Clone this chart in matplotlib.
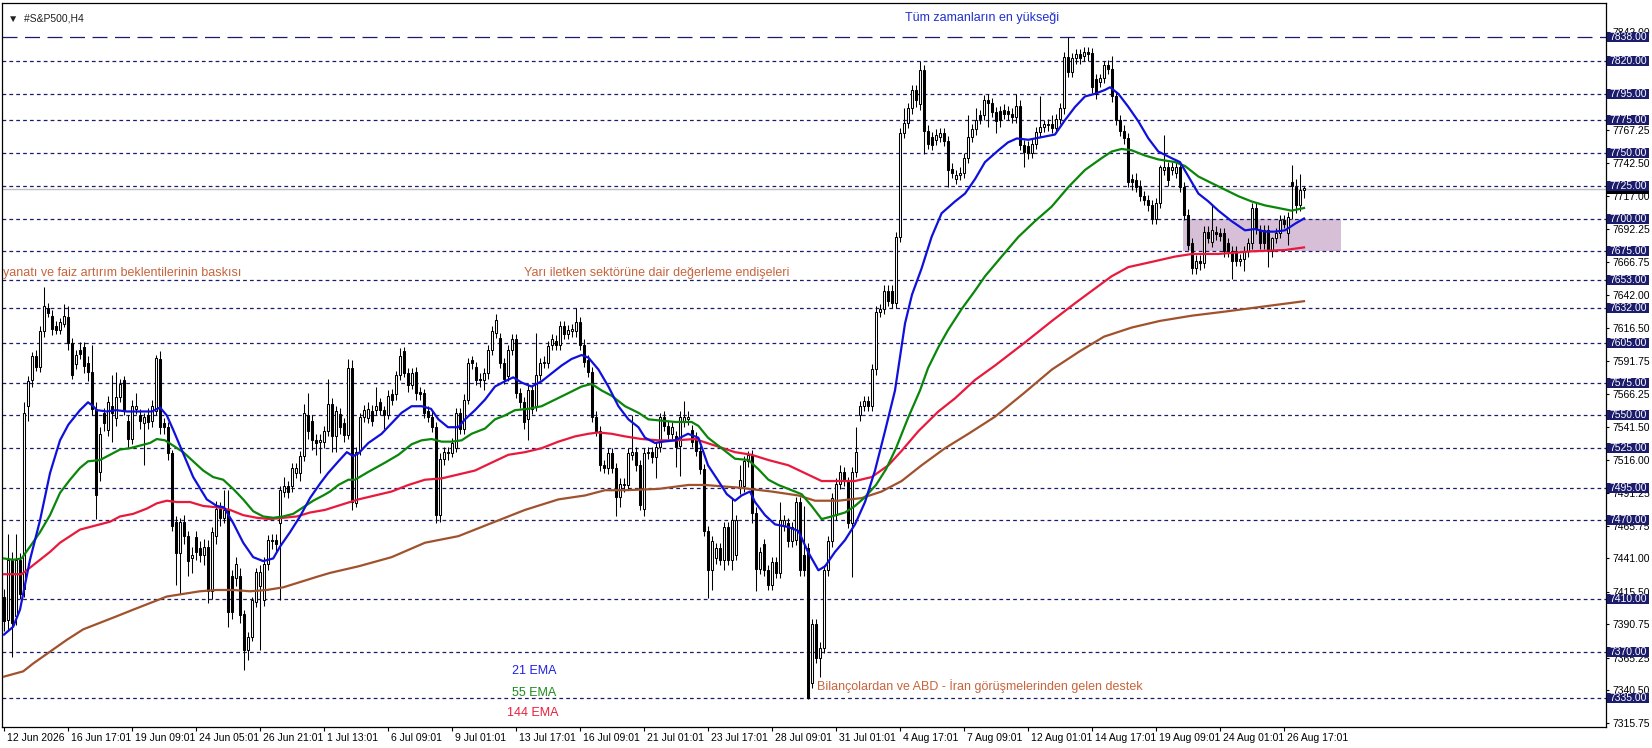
import matplotlib
matplotlib.use("Agg")
import matplotlib.pyplot as plt
import matplotlib.transforms as mtransforms
from matplotlib.patches import Rectangle

# H4 candles, 12 Jun - 27 Aug (bar index = position)
opens = [
    7412, 7394, 7440, 7397, 7440, 7418, 7557, 7577, 7595, 7587,
    7614, 7632, 7626, 7618, 7615, 7620, 7625, 7605, 7589, 7600,
    7602, 7590, 7583, 7555, 7507, 7552, 7539, 7557, 7548, 7564,
    7577, 7546, 7532, 7555, 7550, 7544, 7550, 7546, 7553, 7593,
    7544, 7541, 7521, 7469, 7445, 7469, 7458, 7441, 7457, 7449,
    7444, 7450, 7416, 7458, 7479, 7472, 7478, 7428, 7426, 7428,
    7399, 7371, 7381, 7408, 7420, 7409, 7437, 7455, 7455, 7468,
    7492, 7496, 7496, 7506, 7506, 7519, 7550, 7546, 7531, 7530,
    7530, 7538, 7559, 7534, 7551, 7544, 7535, 7586, 7483, 7524,
    7549, 7548, 7553, 7554, 7560, 7554, 7550, 7566, 7566, 7581,
    7599, 7582, 7573, 7583, 7568, 7567, 7553, 7549, 7541, 7474,
    7517, 7522, 7521, 7525, 7552, 7540, 7562, 7592, 7587, 7578,
    7577, 7582, 7600, 7613, 7609, 7590, 7580, 7600, 7608, 7567,
    7560, 7547, 7569, 7557, 7581, 7590, 7590, 7604, 7607, 7604,
    7618, 7612, 7614, 7614, 7621, 7604, 7592, 7583, 7549, 7538,
    7512, 7510, 7521, 7510, 7488, 7497, 7497, 7520, 7522, 7512,
    7479, 7521, 7522, 7518, 7526, 7549, 7542, 7536, 7534, 7527,
    7545, 7547, 7539, 7533, 7523, 7509, 7462, 7432, 7441, 7449,
    7440, 7465, 7440, 7444, 7495, 7496, 7515, 7520, 7476, 7433,
    7452, 7432, 7421, 7438, 7430, 7466, 7468, 7454, 7455, 7484,
    7444, 7449, 7346, 7391, 7365, 7373, 7432, 7454, 7474, 7498,
    7507, 7499, 7468, 7507, 7550, 7557, 7561, 7557, 7585, 7629,
    7631, 7645, 7645, 7636, 7686, 7765, 7773, 7784, 7798, 7787,
    7813, 7767, 7762, 7760, 7762, 7765, 7759, 7738, 7730, 7733,
    7735, 7746, 7762, 7768, 7779, 7779, 7790, 7788, 7781, 7782,
    7783, 7782, 7780, 7777, 7786, 7756, 7755, 7750, 7757, 7766,
    7770, 7771, 7772, 7769, 7776, 7784, 7823, 7812, 7822, 7825,
    7824, 7827, 7826, 7806, 7804, 7807, 7817, 7814, 7793, 7775,
    7767, 7761, 7730, 7729, 7725, 7717, 7714, 7710, 7700, 7712,
    7737, 7739, 7737, 7735, 7739, 7724, 7703, 7681, 7662, 7668,
    7666, 7690, 7682, 7690, 7689, 7689, 7681, 7675, 7675, 7668,
    7669, 7675, 7681, 7708, 7691, 7691, 7691, 7675, 7685, 7689,
    7699, 7689, 7728, 7724, 7710, 7722,
]
highs = [
    7418, 7460, 7446, 7460, 7445, 7560, 7580, 7598, 7600, 7618,
    7648, 7636, 7630, 7622, 7624, 7635, 7633, 7609, 7600, 7606,
    7606, 7595, 7604, 7560, 7541, 7556, 7565, 7581, 7583, 7578,
    7580, 7550, 7562, 7567, 7555, 7552, 7556, 7562, 7596, 7599,
    7548, 7545, 7524, 7473, 7472, 7474, 7462, 7450, 7462, 7454,
    7456, 7455, 7465, 7485, 7484, 7493, 7493, 7432, 7442, 7434,
    7402, 7385, 7412, 7434, 7436, 7442, 7459, 7460, 7460, 7496,
    7503, 7500, 7514, 7514, 7523, 7559, 7567, 7550, 7536, 7536,
    7542, 7578, 7563, 7557, 7556, 7548, 7593, 7592, 7526, 7552,
    7558, 7560, 7558, 7572, 7563, 7557, 7569, 7570, 7584, 7601,
    7602, 7586, 7586, 7587, 7572, 7570, 7557, 7553, 7545, 7521,
    7526, 7526, 7533, 7556, 7556, 7566, 7594, 7595, 7591, 7582,
    7586, 7604, 7618, 7627, 7613, 7594, 7604, 7612, 7612, 7571,
    7564, 7573, 7573, 7613, 7594, 7595, 7607, 7612, 7611, 7622,
    7622, 7619, 7620, 7632, 7625, 7608, 7596, 7587, 7553, 7542,
    7516, 7525, 7525, 7514, 7502, 7502, 7525, 7550, 7526, 7516,
    7525, 7526, 7526, 7530, 7552, 7553, 7546, 7545, 7538, 7553,
    7561, 7553, 7543, 7537, 7527, 7513, 7466, 7458, 7453, 7453,
    7469, 7469, 7487, 7474, 7512, 7519, 7523, 7524, 7480, 7450,
    7456, 7436, 7442, 7442, 7484, 7474, 7472, 7469, 7488, 7488,
    7481, 7453, 7395, 7395, 7377, 7436, 7458, 7491, 7502, 7512,
    7511, 7503, 7511, 7541, 7561, 7565, 7565, 7589, 7633, 7635,
    7649, 7649, 7649, 7690, 7769, 7784, 7788, 7802, 7802, 7820,
    7817, 7771, 7766, 7768, 7769, 7769, 7763, 7742, 7737, 7739,
    7750, 7779, 7772, 7784, 7783, 7794, 7795, 7792, 7785, 7786,
    7787, 7786, 7784, 7795, 7790, 7760, 7759, 7761, 7770, 7793,
    7775, 7776, 7779, 7780, 7788, 7827, 7838, 7826, 7829, 7829,
    7831, 7831, 7830, 7810, 7810, 7820, 7821, 7824, 7797, 7779,
    7771, 7765, 7734, 7735, 7729, 7721, 7718, 7714, 7716, 7741,
    7764, 7743, 7743, 7743, 7743, 7728, 7707, 7685, 7672, 7672,
    7694, 7694, 7710, 7694, 7693, 7693, 7685, 7679, 7679, 7673,
    7679, 7685, 7712, 7712, 7695, 7695, 7695, 7686, 7693, 7703,
    7703, 7705, 7741, 7730, 7734, 7725,
]
lows = [
    7386, 7386, 7366, 7390, 7410, 7412, 7546, 7572, 7584, 7583,
    7610, 7625, 7611, 7612, 7612, 7617, 7600, 7578, 7585, 7593,
    7582, 7576, 7550, 7471, 7500, 7538, 7534, 7530, 7542, 7560,
    7550, 7525, 7528, 7551, 7540, 7512, 7540, 7541, 7550, 7536,
    7536, 7516, 7462, 7421, 7414, 7452, 7428, 7430, 7440, 7438,
    7436, 7407, 7410, 7452, 7466, 7468, 7389, 7395, 7420, 7392,
    7356, 7364, 7378, 7404, 7371, 7405, 7432, 7448, 7446, 7409,
    7488, 7487, 7492, 7502, 7500, 7515, 7532, 7524, 7520, 7506,
    7525, 7534, 7522, 7522, 7536, 7530, 7532, 7478, 7480, 7520,
    7545, 7544, 7542, 7550, 7550, 7540, 7547, 7558, 7562, 7577,
    7579, 7568, 7570, 7562, 7562, 7548, 7545, 7537, 7468, 7469,
    7512, 7516, 7518, 7522, 7536, 7536, 7559, 7585, 7573, 7572,
    7569, 7578, 7596, 7609, 7586, 7574, 7576, 7596, 7563, 7556,
    7540, 7531, 7551, 7553, 7577, 7586, 7586, 7600, 7600, 7600,
    7608, 7608, 7610, 7610, 7600, 7587, 7579, 7545, 7534, 7508,
    7506, 7505, 7506, 7473, 7480, 7492, 7494, 7516, 7508, 7478,
    7473, 7517, 7514, 7502, 7522, 7538, 7532, 7532, 7511, 7504,
    7541, 7543, 7526, 7519, 7505, 7458, 7411, 7417, 7437, 7436,
    7432, 7436, 7432, 7440, 7490, 7492, 7511, 7468, 7416, 7429,
    7428, 7417, 7417, 7426, 7426, 7462, 7450, 7450, 7451, 7428,
    7428, 7334, 7342, 7361, 7351, 7369, 7428, 7450, 7470, 7494,
    7496, 7464, 7427, 7503, 7546, 7553, 7553, 7553, 7581, 7625,
    7627, 7633, 7632, 7632, 7682, 7761, 7769, 7780, 7785, 7783,
    7749, 7753, 7752, 7756, 7758, 7755, 7724, 7731, 7726, 7729,
    7731, 7742, 7758, 7764, 7772, 7775, 7770, 7777, 7765, 7770,
    7776, 7775, 7773, 7773, 7752, 7739, 7745, 7746, 7753, 7762,
    7766, 7767, 7765, 7765, 7772, 7780, 7808, 7808, 7818, 7818,
    7820, 7820, 7796, 7791, 7800, 7803, 7810, 7789, 7771, 7763,
    7757, 7724, 7722, 7720, 7713, 7710, 7706, 7696, 7696, 7708,
    7733, 7725, 7733, 7731, 7720, 7699, 7676, 7658, 7658, 7661,
    7662, 7681, 7678, 7684, 7683, 7671, 7671, 7654, 7664, 7664,
    7660, 7671, 7677, 7688, 7677, 7677, 7663, 7671, 7681, 7685,
    7693, 7680, 7700, 7704, 7706, 7716,
]
closes = [
    7393, 7440, 7392, 7440, 7414, 7552, 7576, 7595, 7587, 7614,
    7633, 7628, 7616, 7615, 7621, 7626, 7605, 7581, 7596, 7597,
    7588, 7583, 7555, 7489, 7536, 7544, 7560, 7552, 7564, 7574,
    7554, 7532, 7557, 7557, 7546, 7549, 7545, 7557, 7594, 7541,
    7541, 7521, 7466, 7445, 7469, 7458, 7439, 7444, 7446, 7444,
    7450, 7416, 7461, 7479, 7472, 7478, 7400, 7400, 7437, 7398,
    7371, 7381, 7409, 7431, 7431, 7437, 7455, 7454, 7452, 7493,
    7496, 7492, 7510, 7510, 7519, 7552, 7538, 7531, 7529, 7531,
    7538, 7559, 7534, 7553, 7541, 7535, 7586, 7484, 7522, 7549,
    7554, 7555, 7546, 7557, 7554, 7550, 7565, 7562, 7581, 7595,
    7582, 7573, 7582, 7567, 7566, 7552, 7549, 7541, 7474, 7517,
    7522, 7521, 7529, 7552, 7540, 7562, 7590, 7590, 7577, 7577,
    7582, 7600, 7614, 7623, 7590, 7578, 7600, 7608, 7567, 7560,
    7545, 7569, 7555, 7581, 7590, 7591, 7603, 7608, 7604, 7618,
    7612, 7615, 7616, 7621, 7604, 7591, 7583, 7549, 7538, 7512,
    7510, 7521, 7510, 7488, 7498, 7498, 7521, 7522, 7512, 7482,
    7521, 7522, 7518, 7526, 7549, 7542, 7536, 7541, 7526, 7549,
    7549, 7549, 7530, 7523, 7509, 7462, 7432, 7454, 7449, 7440,
    7465, 7440, 7470, 7470, 7501, 7515, 7520, 7476, 7433, 7446,
    7432, 7421, 7438, 7430, 7470, 7470, 7454, 7465, 7484, 7432,
    7432, 7335, 7391, 7365, 7373, 7432, 7454, 7487, 7498, 7507,
    7500, 7468, 7507, 7522, 7557, 7561, 7557, 7585, 7629, 7631,
    7645, 7637, 7636, 7686, 7765, 7773, 7784, 7798, 7790, 7813,
    7767, 7757, 7756, 7764, 7765, 7759, 7737, 7735, 7733, 7735,
    7746, 7762, 7768, 7775, 7776, 7790, 7788, 7781, 7774, 7775,
    7780, 7780, 7777, 7786, 7756, 7751, 7750, 7757, 7766, 7770,
    7772, 7772, 7769, 7776, 7784, 7823, 7812, 7822, 7825, 7822,
    7827, 7825, 7800, 7795, 7807, 7817, 7814, 7793, 7775, 7767,
    7761, 7728, 7728, 7724, 7717, 7714, 7710, 7700, 7712, 7739,
    7739, 7729, 7739, 7739, 7724, 7703, 7680, 7662, 7668, 7666,
    7690, 7685, 7691, 7688, 7687, 7675, 7675, 7668, 7668, 7669,
    7675, 7681, 7708, 7692, 7681, 7681, 7675, 7685, 7689, 7699,
    7696, 7701, 7725, 7710, 7722, 7723,
]

# moving averages: bar position -> value
ema21_at = [0, 2.3, 4, 6.5, 9, 11.5, 14, 16.1, 19, 21, 22.3, 23.2, 25.7, 28, 30.7, 37, 39,
            40.7, 42.3, 44.8, 47.3, 50.7, 53.2, 55, 57.3, 59.8, 62.3, 64.8, 67.3, 69, 71.5,
            74, 76.5, 79, 81, 83.6, 85.7, 87.3, 88.6, 91.1, 94.4, 96.9, 99.4, 101.9, 104.4,
            106.75, 108.6, 111, 113.6, 115.25, 117.75, 120.25, 122.75, 125.25, 127.3, 129.4,
            131.9, 134.4, 136.9, 139.4, 141.9, 144.4, 146.1, 148.6, 151.1, 153.6, 156.1,
            158.6, 160.25, 162.75, 164.8, 167.75, 171, 173.6, 176, 178.6, 180.7, 182.75,
            184.4, 186.5, 187.75, 190.25, 192.75, 196, 198.6, 201, 203.6, 205.25, 207.75,
            210.25, 212.75, 215.25, 217.75, 220.25, 222.75, 225.25, 227, 229.4, 231.9, 234.4,
            237.75, 240.25, 242.75, 245.25, 248.6, 251, 253.2, 256.1, 259.4, 262.75, 265.25,
            267.75, 270.25, 272.75, 275.25, 276.5, 278.6, 281.1, 283.6, 286.1, 288.6, 291.9,
            294, 296.1, 298.6, 301.1, 303.6, 306.9, 310.25, 312.75, 315.25, 317.75, 320.25,
            322.75, 325]
ema21 = [7383, 7389, 7402, 7440, 7470, 7506, 7531, 7543, 7554, 7560, 7557, 7554, 7553, 7554,
         7553, 7553, 7556, 7550, 7539, 7521, 7503, 7486, 7481, 7480, 7468, 7453, 7442, 7439,
         7441, 7450, 7461, 7473, 7487, 7498, 7506, 7515, 7522, 7519, 7521, 7529, 7536, 7544,
         7552, 7557, 7557, 7555, 7547, 7541, 7541, 7547, 7554, 7562, 7572, 7576, 7579, 7575,
         7572, 7576, 7582, 7588, 7593, 7596, 7594, 7585, 7572, 7557, 7547, 7541, 7533, 7529,
         7530, 7531, 7536, 7533, 7512, 7500, 7490, 7485, 7489, 7492, 7484, 7474, 7467, 7465,
         7462, 7446, 7432, 7435, 7446, 7455, 7467, 7484, 7508, 7538, 7569, 7620, 7642, 7662,
         7686, 7704, 7713, 7719, 7730, 7743, 7752, 7758, 7761, 7760, 7762, 7764, 7775, 7785,
         7793, 7795, 7798, 7800, 7795, 7785, 7774, 7761, 7751, 7746, 7743, 7732, 7719, 7713,
         7706, 7698, 7691, 7692, 7690, 7690, 7691, 7696, 7700]

ema55_at = [0, 2.3, 4.4, 6.5, 9, 11.5, 14, 16.5, 19, 21, 24, 26.5, 29, 31.5, 34, 36.5, 38.2,
            40.25, 42.3, 44.8, 47.3, 49.8, 52.3, 54.8, 57.3, 59.8, 62.3, 64.8, 67.3, 69.8,
            72.3, 74.8, 77.3, 79.8, 81.5, 83.6, 86.1, 87.75, 91.1, 95.25, 98.6, 101.9, 104.4,
            106.9, 109.4, 111.9, 114.4, 116.9, 120.25, 122.75, 125.25, 127.75, 131.1, 134.4,
            137.75, 141.1, 144.4, 146.9, 149.4, 151.9, 155.25, 158.6, 161.1, 164.4, 167.75,
            171.9, 173.6, 176, 179.4, 182.75, 186.1, 188.6, 191.1, 193.6, 196.9, 199.4,
            201.9, 204.4, 206.9, 210.25, 212.75, 215, 218, 220.5, 223, 226, 229, 231, 233.6,
            236, 239.4, 242.75, 245.25, 249.4, 253.6, 257.75, 261.9, 266.1, 270.25, 274.4,
            276.9, 279.4, 281.9, 285.25, 288.6, 292.75, 295.25, 298.6, 301.9, 305.25, 308.6,
            311.9, 315.25, 318.6, 321.9, 325]
ema55 = [7441, 7440, 7441, 7450, 7461, 7474, 7491, 7501, 7510, 7515, 7516, 7520, 7524, 7525,
         7527, 7529, 7532, 7531, 7527, 7522, 7515, 7508, 7503, 7501, 7494, 7486, 7477, 7473,
         7472, 7473, 7475, 7480, 7485, 7489, 7492, 7497, 7501, 7501, 7507, 7514, 7520, 7528,
         7531, 7532, 7530, 7530, 7531, 7536, 7540, 7547, 7550, 7554, 7555, 7557, 7562, 7567,
         7572, 7574, 7569, 7565, 7557, 7552, 7547, 7546, 7545, 7545, 7542, 7533, 7525, 7517,
         7516, 7509, 7501, 7497, 7493, 7490, 7481, 7471, 7473, 7476, 7481, 7487, 7497, 7509,
         7525, 7548, 7569, 7586, 7602, 7615, 7631, 7645, 7656, 7671, 7686, 7698, 7709, 7724,
         7737, 7746, 7751, 7753, 7752, 7748, 7745, 7743, 7740, 7732, 7727, 7722, 7717, 7713,
         7710, 7708, 7706, 7708]

ema144_at = [0, 4.4, 6.5, 9, 11.5, 14, 16.5, 19, 21.5, 24, 26.5, 29, 32.3, 35.7, 38.2, 40.7,
             43.2, 46.5, 49.8, 53.2, 56.5, 59.8, 63.2, 66.5, 69.8, 73.2, 76.5, 80.25, 84.4,
             88.6, 92.75, 96.9, 101.1, 105.25, 109.4, 113.6, 117.75, 121.9, 126.1, 130.25,
             134.4, 138.6, 142.75, 146.1, 148.6, 151.9, 155.25, 159.4, 163.6, 167.75, 172.75,
             177.75, 182.75, 186.9, 191.1, 196.1, 200.25, 204.4, 209.4, 212.75, 216.9, 221.1,
             224.4, 228.6, 233.6, 237.75, 242.75, 247.75, 255, 262, 268, 272, 276.9, 281.1,
             287, 292.75, 297, 303.6, 311.9, 320.25, 325]
ema144 = [7429, 7429, 7434, 7440, 7446, 7453, 7458, 7463, 7465, 7467, 7469, 7473, 7475, 7479,
          7483, 7485, 7484, 7484, 7481, 7480, 7478, 7474, 7472, 7471, 7472, 7473, 7476, 7478,
          7482, 7486, 7489, 7492, 7497, 7501, 7502, 7505, 7508, 7514, 7520, 7522, 7525, 7530,
          7534, 7536, 7537, 7536, 7534, 7532, 7531, 7531, 7532, 7527, 7522, 7520, 7516, 7512,
          7506, 7500, 7500, 7500, 7503, 7512, 7523, 7538, 7553, 7563, 7577, 7588, 7605, 7622,
          7636, 7645, 7656, 7663, 7667, 7671, 7673, 7673, 7675, 7676, 7678]

ema_slow_at = [0, 4.8, 7.3, 11.5, 15.7, 19.8, 24, 28.2, 32.3, 36.5, 40.7, 44.8, 49, 53.2, 57.3,
               61.5, 65.7, 69.8, 74, 78.2, 81.5, 88.6, 96.9, 105.25, 113.6, 121.9, 130.25,
               138.6, 145.25, 150.25, 155.25, 163.6, 171.1, 175.25, 183.6, 191.9, 198.6,
               202.75, 208.6, 214.4, 219.4, 224.4, 229.4, 235.25, 241.1, 247.75, 255, 262,
               269, 275, 282, 289, 297, 305, 315, 325]
ema_slow = [7351, 7355, 7361, 7370, 7379, 7387, 7392, 7397, 7402, 7407, 7412, 7414, 7416, 7417,
            7417, 7416, 7417, 7419, 7423, 7427, 7430, 7435, 7442, 7453, 7458, 7468, 7478, 7486,
            7489, 7493, 7493, 7494, 7497, 7497, 7495, 7492, 7489, 7485, 7485, 7487, 7492, 7500,
            7512, 7525, 7536, 7549, 7567, 7585, 7599, 7610, 7617, 7622, 7626, 7629, 7633, 7637]

levels = [7820, 7795, 7775, 7750, 7725, 7700, 7675, 7653, 7632, 7605, 7575, 7550, 7525,
          7495, 7470, 7410, 7370, 7335]
ath_level = 7838
bid_price = 7722.5
zone_lo, zone_hi = 7675, 7700

price_ticks = [7315.75, 7340.50, 7365.25, 7390.75, 7415.50, 7441.00, 7465.75, 7491.25,
               7516.00, 7541.50, 7566.25, 7591.75, 7616.50, 7642.00, 7666.75, 7692.25,
               7717.00, 7742.50, 7767.25, 7792.75, 7817.50, 7842.00]
covered_ticks = [7792.75, 7817.50]   # sit fully under the level boxes
date_labels = ['12 Jun 2026', '16 Jun 17:01', '19 Jun 09:01', '24 Jun 05:01', '26 Jun 21:01',
               '1 Jul 13:01', '6 Jul 09:01', '9 Jul 01:01', '13 Jul 17:01', '16 Jul 09:01',
               '21 Jul 01:01', '23 Jul 17:01', '28 Jul 09:01', '31 Jul 01:01', '4 Aug 17:01',
               '7 Aug 09:01', '12 Aug 01:01', '14 Aug 17:01', '19 Aug 09:01', '24 Aug 01:01',
               '26 Aug 17:01']

plt.rcParams['font.family'] = ['Liberation Sans Narrow', 'Liberation Sans', 'DejaVu Sans']

NAVY = '#1c1c6c'
NOTE = '#c8643c'

fig = plt.figure(figsize=(16.52, 7.48), dpi=100)
ax = fig.add_axes([2 / 1652, 21 / 748, 1604 / 1652, 724 / 748])
ax.set_xlim(-0.5, 400.5)
ax.set_ylim(7312.6, 7864.2)

# support zone
ax.add_patch(Rectangle((294.75, zone_lo), 39.5, zone_hi - zone_lo,
                       facecolor='#d8bfd8', edgecolor='none', zorder=0.5))

# horizontal levels
for lv in levels:
    ax.axhline(lv, color=NAVY, lw=0.9, dashes=(3, 2.5), zorder=1)
ax.axhline(ath_level, color=NAVY, lw=0.9, dashes=(12, 6), zorder=1)
ax.axhline(bid_price, color='#c0c0c0', lw=1, zorder=1)

# candles
idx = list(range(len(closes)))
ax.vlines(idx, lows, highs, color='black', lw=0.75, zorder=2)
bottoms = [min(o, c) for o, c in zip(opens, closes)]
heights = [abs(c - o) for o, c in zip(opens, closes)]
fills = ['white' if c >= o else 'black' for o, c in zip(opens, closes)]
ax.bar(idx, heights, bottom=bottoms, width=0.5, color=fills, edgecolor='black',
       linewidth=0.75, zorder=2.5)

# averages
ax.plot(ema_slow_at, ema_slow, color='#a0522d', lw=1.6, zorder=3)
ax.plot(ema144_at, ema144, color='#e8193c', lw=1.6, zorder=3)
ax.plot(ema55_at, ema55, color='#0a860a', lw=1.6, zorder=3)
ax.plot(ema21_at, ema21, color='#1010dc', lw=1.6, zorder=3)

# notes
ax.text(225.25, 7852.8, 'Tüm zamanların en yükseği', color='#2030d0', fontsize=9, va='center')
ax.text(-0.3, 7658.5, 'yanatı ve faiz artırım beklentilerinin baskısı', color=NOTE,
        fontsize=9, va='center')
ax.text(130, 7658.5, 'Yarı iletken sektörüne dair değerleme endişeleri', color=NOTE,
        fontsize=9, va='center')
ax.text(203.25, 7344, 'Bilançolardan ve ABD - İran görüşmelerinden gelen destek', color=NOTE,
        fontsize=9, va='center')
ax.text(127, 7355.3, '21 EMA', color='#2020e0', fontsize=9, va='center')
ax.text(127, 7338.5, '55 EMA', color='#1a8a1a', fontsize=9, va='center')
ax.text(125.75, 7323.3, '144 EMA', color='#e8203c', fontsize=9, va='center')
ax.text(0.004, 0.985, '\u25bc  #S&P500,H4', transform=ax.transAxes, fontsize=7.5,
        va='top', ha='left', color='#202020')

# price axis
ax.yaxis.tick_right()
ax.set_yticks(price_ticks)
ax.set_yticklabels(['' if t in covered_ticks else f'{t:.2f}' for t in price_ticks])
ax.tick_params(axis='y', direction='out', length=2.5, pad=2, labelsize=7.5, width=0.8)

trans = mtransforms.blended_transform_factory(ax.transAxes, ax.transData)
ax.add_patch(Rectangle((1.0004, bid_price - 3.8), 0.0265, 7.6, transform=trans,
                       facecolor='black', edgecolor='none', clip_on=False, zorder=4.5))
for lv in [ath_level] + levels:
    ax.add_patch(Rectangle((1.0004, lv - 3.8), 0.0265, 7.6, transform=trans,
                           facecolor=NAVY, edgecolor='none', clip_on=False, zorder=5))
    ax.text(1.0004 + 0.01325, lv, f'{lv:.2f}', transform=trans, ha='center', va='center',
            color='white', fontsize=7.5, clip_on=False, zorder=6)

# time axis
ax.set_xticks(range(0, 16 * len(date_labels), 16))
ax.set_xticklabels(date_labels)
ax.tick_params(axis='x', direction='out', length=3, pad=1, labelsize=7.5, width=0.8)
shift = mtransforms.ScaledTranslation(2 / 72, 0, fig.dpi_scale_trans)
for lbl in ax.get_xticklabels():
    lbl.set_horizontalalignment('left')
    lbl.set_transform(lbl.get_transform() + shift)

for sp in ax.spines.values():
    sp.set_color('black')
    sp.set_linewidth(0.9)

fig.savefig('out.png', dpi=100, facecolor='white')
